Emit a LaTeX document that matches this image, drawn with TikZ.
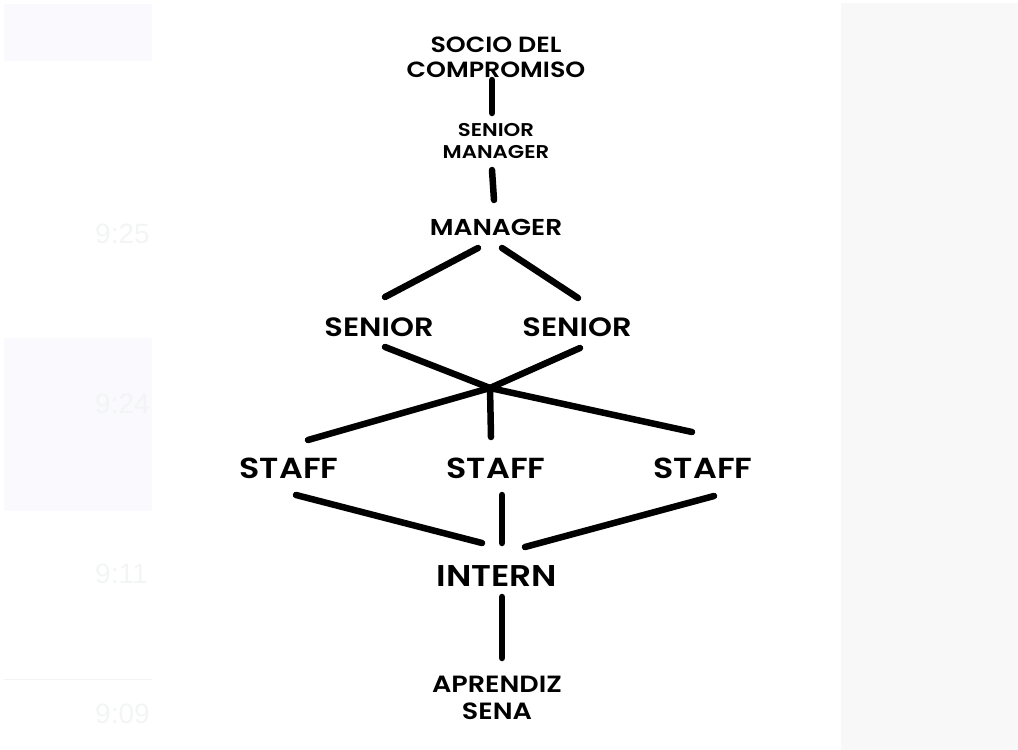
\documentclass[tikz,border=0pt]{standalone}
\usepackage{fontspec}
\setmainfont{Poppins}[BoldFont={Poppins SemiBold}, FakeStretch=1.15, BoldFeatures={FakeStretch=1.15}]
\newfontfamily\clockfont{Liberation Sans}
\usepackage{tikz}
\usetikzlibrary{positioning, calc}
\definecolor{sidepanel}{HTML}{F9F9FE}
\definecolor{rightpanel}{HTML}{F8F8F8}
\definecolor{clockgray}{HTML}{F3F5F5}
\tikzset{
  rank/.style={inner sep=0pt, align=center, text=black, font=\bfseries\fontsize{#1}{#1}\selectfont},
  link/.style={line width=6.5pt, line cap=round},
  clock/.style={anchor=base west, inner sep=0pt, text=clockgray, font=\clockfont\fontsize{28}{28}\selectfont}
}

\begin{document}
\begin{tikzpicture}[x=1pt, y=-1pt]
  \useasboundingbox (0,0) rectangle (1018,750);
  % screenshot leftovers
  \fill[rightpanel] (841,3) rectangle (1018,750);
  \fill[sidepanel] (4,4) rectangle (152,61);
  \fill[sidepanel] (4,338) rectangle (152,511);
  \draw[clockgray, line width=1pt] (4,679) -- (152,679);
  \begin{scope}
    \clip (0,0) rectangle (152,750);
    \node[clock] (c1) at (95,243) {9:25};
    \node[clock] (c2) at (95,413) {9:24};
    \node[clock] (c3) at (95,583) {9:11};
    \node[clock] (c4) at (95,723) {9:09};
  \end{scope}

  % ranks
  \node[rank=22, font=\bfseries\fontsize{22}{25}\selectfont] (socio) at (496,57) {SOCIO DEL\\COMPROMISO};
  \node[rank=19, font=\bfseries\fontsize{18.5}{22}\selectfont] (smgr) at (496,141) {SENIOR\\MANAGER};
  \node[rank=23] (mgr) at (496,227) {MANAGER};
  \node[rank=26.5] (sen1) at (379,327) {SENIOR};
  \node[rank=26.5] (sen2) at (577,327) {SENIOR};
  \coordinate (hub) at (490,388);
  \node[rank=29] (st1) at (289,468) {STAFF};
  \node[rank=29] (st2) at (496,468) {STAFF};
  \node[rank=29] (st3) at (703,468) {STAFF};
  \node[rank=30] (intern) at (497,576) {INTERN};
  \node[rank=23.5, font=\bfseries\fontsize{23.5}{27}\selectfont] (apr) at (497,698) {APRENDIZ\\SENA};

  % links
  \foreach \a/\sa/\b/\sb in {socio/{-4,23}/smgr/{-4,-28}, smgr/{-4,29}/mgr/{-2,-27},
      mgr/{-18,21}/sen1/{6,-30}, mgr/{6,21}/sen2/{1,-29},
      sen1/{6,20}/hub/{0,0}, sen2/{3,21}/hub/{0,0},
      hub/{0,0}/st1/{19,-28}, hub/{0,0}/st2/{-5,-31}, hub/{0,0}/st3/{-11,-36},
      st1/{7,27}/intern/{-15,-33}, st2/{6,27}/intern/{5,-33}, st3/{11,28}/intern/{28,-29},
      intern/{5,21}/apr/{5,-40}} {
    \draw[link] ([shift={(\sa)}]\a.center) -- ([shift={(\sb)}]\b.center);
  }
\end{tikzpicture}
\end{document}
